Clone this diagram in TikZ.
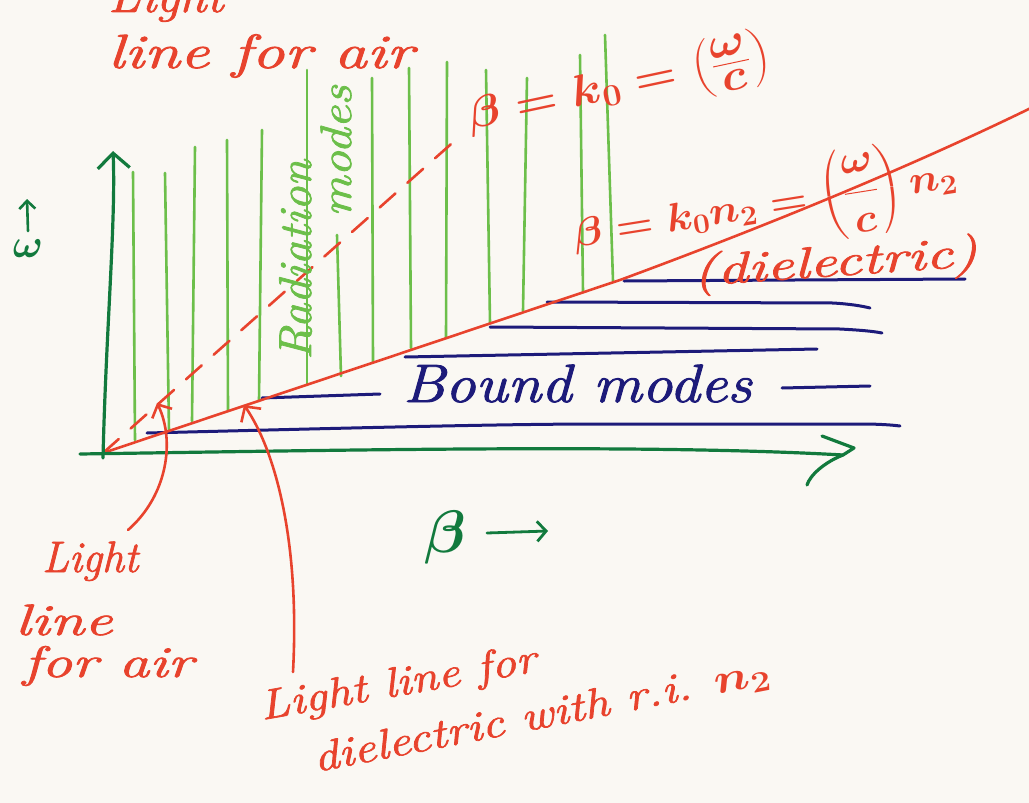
\RequirePackage{fix-cm}
\documentclass[tikz,border=0pt]{standalone}
\usepackage{amsmath}
\usepackage{fontspec}
\setmainfont{Latin Modern Roman}[ItalicFeatures={FakeBold=1.6}]
\usepackage{graphicx}
\usetikzlibrary{arrows.meta}
\definecolor{paper}{HTML}{FAF8F3}
\definecolor{hred}{HTML}{E8432D}
\definecolor{lgreen}{HTML}{6CBF4A}
\definecolor{dgreen}{HTML}{127A3D}
\definecolor{navy}{HTML}{1D1B7A}
\newcommand\fsz[1]{\fontsize{#1}{#1}\selectfont}
\begin{document}
\begin{tikzpicture}[x=1pt,y=-1pt, line cap=round, line join=round,
  redl/.style={draw=hred, line width=2.6pt},
  grl/.style={draw=lgreen, line width=2.6pt},
  nvl/.style={draw=navy, line width=3pt},
  axl/.style={draw=dgreen, line width=3.2pt},
  txt/.style={inner sep=0pt, outer sep=0pt},
  redtxt/.style={txt, text=hred},
  barbR/.style={-{Straight Barb[length=11pt,width=24pt]}},
]
\fill[paper] (0,0) rectangle (1029,803);
\useasboundingbox (0,0) rectangle (1029,803);
\clip (0,0) rectangle (1029,803);

% ---------- radiation-mode hatching ----------
\foreach \xa/\ya/\xb/\yb in {133/172/135/440, 165/173/169/431, 195/147/192/421,
   227/140/228/410, 262/130/259/401, 307/70/307/385, 337/235/341/376,
   372/78/373/362, 409/68/411/348, 447/62/446/338, 486/70/490/323,
   527/78/523/311, 580/55/583/292, 605/35/613/281}
  \draw[grl] (\xa,\ya) -- (\xb,\yb);

% ---------- bound-mode lines ----------
\draw[nvl] (624,281) -- (965,279);
\draw[nvl] (547,302) -- (833,303) .. controls (850,304) and (862,306) .. (870,308);
\draw[nvl] (490,327) -- (840,329) .. controls (858,330) and (872,331) .. (882,333);
\draw[nvl] (405,357) -- (817,349);
\draw[nvl] (262,398) -- (380,394);
\draw[nvl] (782,388) -- (870,386);
\draw[nvl] (147,433) .. controls (350,428) and (500,424) .. (600,424) -- (860,424) .. controls (880,424) and (892,425) .. (900,426);

% ---------- light lines ----------
\coordinate (O) at (103,453);
\draw[redl, dash pattern=on 21pt off 16pt] (O) -- (459,137);
\draw[redl] (O) -- (620,280) .. controls (750,232) and (900,172) .. (1035,106);

% ---------- axes ----------
\draw[axl, -{Straight Barb[length=15pt,width=32pt]}] (103,458) .. controls (106,330) and (116,220) .. (113,151);
\draw[axl] (80,454) .. controls (350,450) and (650,444) .. (843,455);
\draw[axl] (822,436) -- (854,448) -- (843,455) .. controls (825,462) and (810,475) .. (807,485);

% ---------- axis labels ----------
\node[txt, text=dgreen, font=\fsz{40}\boldmath] (om) at (28,249) {$\omega$};
\coordinate (omtip) at (27,199);
\draw[axl, line width=2.6pt, -{Straight Barb[length=8pt,width=16pt]}] ([yshift=9pt]om.north) -- (omtip);
\node[txt, text=dgreen, font=\fsz{60}\boldmath] (bx) at (445,537) {$\beta$};
\coordinate (bxs) at (487,533);
\coordinate (bxt) at (548,531);
\draw[axl, line width=2.8pt, -{Straight Barb[length=9pt,width=20pt]}] (bxs) -- (bxt);

% ---------- green text ----------
\node[txt, text=lgreen, rotate=90, anchor=base west, font=\fsz{46}\itshape] (rad) at (311,360) {\scalebox{1.05}[1]{Radiation}};
\node[txt, text=lgreen, rotate=90, anchor=base west, font=\fsz{44}\itshape] (mod) at (351,217) {\scalebox{1.15}[1]{modes}};

% ---------- navy text ----------
\node[txt, text=navy, anchor=base west, font=\fsz{54}\itshape] (bound) at (403,402) {\scalebox{1.13}[1]{Bound modes}};

% ---------- red text ----------
\node[redtxt, anchor=base west, font=\fsz{48}\itshape] (ltop) at (108,12) {\scalebox{1.1}[1]{Light}};
\node[redtxt, anchor=base west, font=\fsz{48}\itshape] (lair) at (108,68) {\scalebox{1.36}[1]{line for air}};
\node[redtxt, rotate=12, font=\fsz{44}\boldmath] (eqA) at (619,87) {\scalebox{1.1}[1]{$\beta = k_0 = \bigl(\frac{\textstyle\omega}{\textstyle c}\bigr)$}};
\node[redtxt, rotate=9, font=\fsz{40}\boldmath] (eqB) at (765,207) {\scalebox{1.07}[1]{$\beta = k_0 n_2 = \left(\dfrac{\omega}{c}\right) n_2$}};
\node[redtxt, rotate=4, font=\fsz{44}\itshape] (diel) at (835,265) {\scalebox{1.4}[1]{(dielectric)}};

\node[redtxt, anchor=base west, font=\fsz{44}\itshape] (la1) at (42,572) {Light};
\node[redtxt, anchor=base west, font=\fsz{44}\itshape] (la2) at (15,635) {\scalebox{1.43}[1]{line}};
\node[redtxt, anchor=base west, font=\fsz{44}\itshape] (la3) at (23,677) {\scalebox{1.39}[1]{for air}};

\node[redtxt, rotate=10, anchor=base west, font=\fsz{42}\itshape] (ld1) at (262,720) {\scalebox{1.18}[1]{Light line for}};
\node[redtxt, rotate=11, anchor=base west, font=\fsz{42}\itshape] (ld2) at (316,772) {\scalebox{1.2}[1]{dielectric with r.i. \boldmath$n_2$}};

% ---------- pointer arrows ----------
\coordinate (airTail) at (128,530);
\coordinate (airTip) at (157,403);
\draw[redl, -{Straight Barb[length=10pt,width=22pt]}] (airTail) .. controls (168,495) and (175,440) .. (airTip);
\coordinate (dTail) at (293,672);
\coordinate (dTip) at (244,405);
\draw[redl, barbR] (dTail) .. controls (300,540) and (275,450) .. (dTip);
\end{tikzpicture}
\end{document}
